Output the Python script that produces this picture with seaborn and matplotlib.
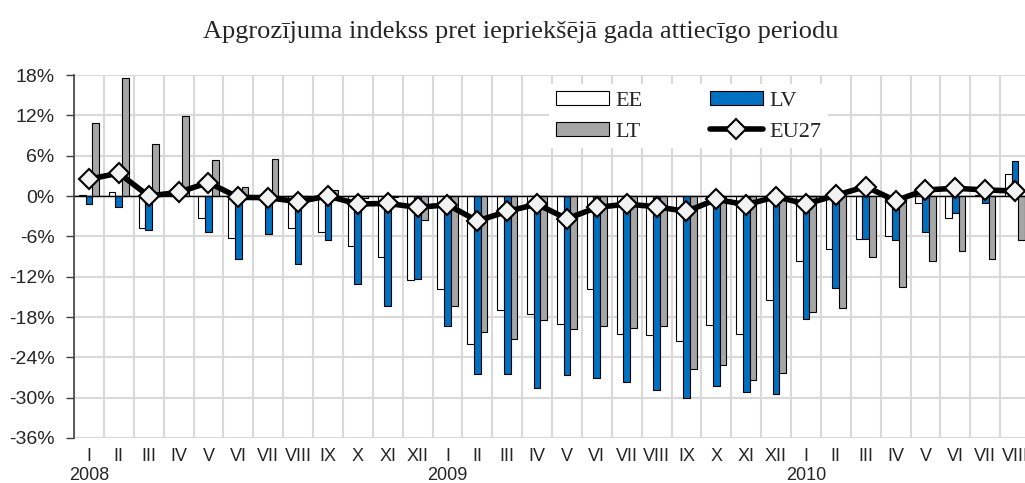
import numpy as np
import pandas as pd
import matplotlib
matplotlib.use("Agg")
import matplotlib.pyplot as plt
import matplotlib.transforms as mtransforms
from matplotlib.ticker import FuncFormatter
import seaborn as sns

# months 2008 I .. 2010 VIII
months = ["I", "II", "III", "IV", "V", "VI", "VII", "VIII", "IX", "X", "XI", "XII",
          "I", "II", "III", "IV", "V", "VI", "VII", "VIII", "IX", "X", "XI", "XII",
          "I", "II", "III", "IV", "V", "VI", "VII", "VIII"]
years = ["2008", "2009", "2010"]
year_start = [0, 12, 24]

ee = [0.1, 0.6, -4.8, 0.2, -3.3, -6.3, 0.1, -4.7, -5.3, -7.4, -9.0, -12.5,
      -13.8, -22.0, -17.0, -17.5, -19.0, -13.8, -20.5, -20.7, -21.6, -19.2, -20.5, -15.4,
      -9.6, -7.9, -6.4, -6.0, -1.0, -3.2, 0.1, 3.2]
lv = [-1.2, -1.6, -5.1, -0.3, -5.4, -9.3, -5.7, -10.1, -6.6, -13.1, -16.4, -12.3,
      -19.4, -26.5, -26.5, -28.5, -26.6, -27.1, -27.7, -28.8, -30.0, -28.3, -29.1, -29.4,
      -18.3, -13.7, -6.4, -6.6, -5.3, -2.6, -1.0, 5.2]
lt = [10.9, 17.6, 7.8, 11.9, 5.3, 1.4, 5.5, -0.3, 0.9, -0.3, -0.2, -3.5,
      -16.3, -20.3, -21.2, -18.5, -19.8, -19.3, -19.7, -19.3, -25.8, -25.2, -27.3, -26.4,
      -17.2, -16.6, -9.0, -13.5, -9.7, -8.2, -9.4, -6.5]
eu27 = [2.5, 3.4, 0.0, 0.55, 2.0, -0.2, -0.25, -0.85, 0.0, -1.2, -1.1, -1.7,
        -1.3, -3.7, -2.3, -1.2, -3.4, -1.7, -1.2, -1.6, -2.3, -0.5, -1.3, -0.1,
        -1.2, 0.1, 1.4, -0.7, 0.9, 1.15, 0.9, 0.75]

periods = np.arange(len(months))
df = pd.DataFrame({
    "period": np.tile(periods, 3),
    "series": ["EE"] * len(ee) + ["LV"] * len(lv) + ["LT"] * len(lt),
    "value": ee + lv + lt,
})

sns.set_style("white")
plt.rcParams["font.family"] = ["Liberation Sans", "DejaVu Sans"]
serif = ["Liberation Serif", "DejaVu Serif"]

fig = plt.figure(figsize=(10.25, 4.83), dpi=100)
ax = fig.add_axes([74 / 1025, 45 / 483, 956 / 1025, 363 / 483])

sns.barplot(data=df, x="period", y="value", hue="series",
            hue_order=["EE", "LV", "LT"],
            palette={"EE": "white", "LV": "#0070c0", "LT": "#a6a6a6"},
            width=0.68, saturation=1, edgecolor="black", linewidth=0.8,
            errorbar=None, ax=ax)

ax.axhline(0, color="black", linewidth=1, zorder=2)

sns.lineplot(x=periods, y=eu27, color="black", linewidth=4, marker="D",
             markersize=10, markerfacecolor="#f2f2f2", markeredgecolor="black",
             markeredgewidth=1.5, label="EU27", ax=ax, zorder=4)

# axes styling
ax.set_xlim(-0.5, len(months) - 0.5)
ax.set_ylim(-36, 18)
ax.set_yticks(np.arange(-36, 19, 6))
ax.yaxis.set_major_formatter(FuncFormatter(lambda v, p: f"{int(round(v))}%"))
ax.set_xticks(periods)
ax.set_xticklabels(months)
ax.set_xticks(np.arange(-0.5, len(months), 1), minor=True)
ax.set_axisbelow(True)
ax.yaxis.grid(True, color="#d9d9d9", linewidth=1.5)
ax.xaxis.grid(True, which="minor", color="#d9d9d9", linewidth=1.5)
ax.xaxis.grid(False, which="major")
ax.tick_params(axis="x", which="both", length=0, pad=7, labelsize=13)
ax.tick_params(axis="y", length=6, width=1, color="#404040", pad=8, labelsize=14, left=True)
for s in ["top", "right", "bottom"]:
    ax.spines[s].set_visible(False)
ax.spines["left"].set_color("#404040")
ax.spines["left"].set_linewidth(1.2)
ax.set_xlabel("")
ax.set_ylabel("")

trans = mtransforms.blended_transform_factory(ax.transData, ax.transAxes)
for y, i in zip(years, year_start):
    ax.text(i, -0.102, y, transform=trans, ha="center", va="center", fontsize=13)

fig.text(521 / 1025, 1 - 32 / 483,
         "Apgrozījuma indekss pret iepriekšējā gada attiecīgo periodu",
         ha="center", va="center", fontsize=19, family=serif)

handles, labels = ax.get_legend_handles_labels()
hmap = dict(zip(labels, handles))
order = ["EE", "LT", "LV", "EU27"]
leg = ax.legend([hmap[k] for k in order], order, ncol=2, loc="upper left",
                bbox_to_anchor=(549 / 1025, 1 - 84 / 483), bbox_transform=fig.transFigure,
                prop={"family": serif, "size": 16}, frameon=True, fancybox=False,
                facecolor="white", edgecolor="none", framealpha=1,
                handlelength=2.4, handleheight=0.6, handletextpad=0.3,
                columnspacing=3.0, labelspacing=0.5, borderpad=0.3, borderaxespad=0)

fig.savefig("out.png", dpi=100)
